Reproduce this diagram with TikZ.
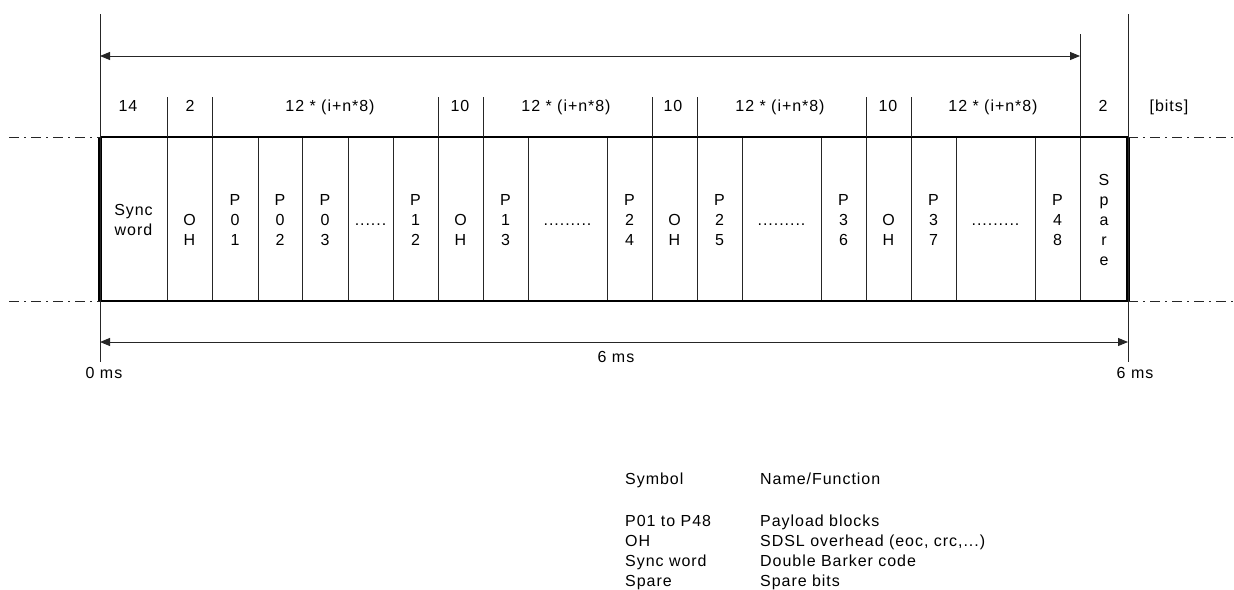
\documentclass[tikz,border=0pt]{standalone}
\usepackage{fontspec}
\setmainfont{Liberation Sans}[LetterSpace=6]
\usetikzlibrary{arrows.meta}
\newcommand\cellfont{\fontsize{16}{20}\selectfont}
\newcommand\st{\rule[-4pt]{0pt}{20pt}}
\newcommand\pc[2]{\st P\\\st #1\\\st #2}
\newcommand\ohtxt{\st\\\st O\\\st H}
\begin{document}
\begin{tikzpicture}[x=1pt,y=-1pt,
  thinline/.style={line width=1pt, draw=black!85},
  cell/.style={draw=black!85, line width=1pt, minimum height=164pt, inner sep=0pt,
    outer sep=0pt, anchor=west, align=center, font=\cellfont},
  lbl/.style={anchor=base, inner sep=0pt, font=\cellfont},
  leg/.style={anchor=base west, inner sep=0pt, font=\cellfont},
  dashdot/.style={line width=0.8pt, draw=black!85, dash pattern=on 10pt off 5pt on 2pt off 5pt},
  dim/.style={line width=1pt, draw=black!85, {Triangle[length=10pt,width=8pt]}-{Triangle[length=10pt,width=8pt]}}
]
\useasboundingbox (0,0) rectangle (1234,589);

% cells
\node[cell, minimum width=67pt] (c1) at (100,219) {\st Sync\\\st word};
\node[cell, minimum width=45pt] (c2) at (c1.east) {\ohtxt};
\node[cell, minimum width=46pt] (c3) at (c2.east) {\pc{0}{1}};
\node[cell, minimum width=44pt] (c4) at (c3.east) {\pc{0}{2}};
\node[cell, minimum width=46pt] (c5) at (c4.east) {\pc{0}{3}};
\node[cell, minimum width=45pt] (c6) at (c5.east) {\st ......};
\node[cell, minimum width=45pt] (c7) at (c6.east) {\pc{1}{2}};
\node[cell, minimum width=45pt] (c8) at (c7.east) {\ohtxt};
\node[cell, minimum width=45pt] (c9) at (c8.east) {\pc{1}{3}};
\node[cell, minimum width=79pt] (c10) at (c9.east) {\st .........};
\node[cell, minimum width=45pt] (c11) at (c10.east) {\pc{2}{4}};
\node[cell, minimum width=45pt] (c12) at (c11.east) {\ohtxt};
\node[cell, minimum width=45pt] (c13) at (c12.east) {\pc{2}{5}};
\node[cell, minimum width=79pt] (c14) at (c13.east) {\st .........};
\node[cell, minimum width=45pt] (c15) at (c14.east) {\pc{3}{6}};
\node[cell, minimum width=45pt] (c16) at (c15.east) {\ohtxt};
\node[cell, minimum width=45pt] (c17) at (c16.east) {\pc{3}{7}};
\node[cell, minimum width=79pt] (c18) at (c17.east) {\st .........};
\node[cell, minimum width=45pt] (c19) at (c18.east) {\pc{4}{8}};
\node[cell, minimum width=48pt] (c20) at (c19.east) {\st S\\\st p\\\st a\\\st r\\\st e};

% thick outer frame
\draw[line width=2.6pt, draw=black] (c1.north west) -- (c20.north east);
\draw[line width=2.6pt, draw=black] (c1.south west) -- (c20.south east);
\draw[line width=3.6pt, draw=black] (c1.north west) -- (c1.south west);
\draw[line width=3.6pt, draw=black] (c20.north east) -- (c20.south east);

% reference coordinates
\coordinate (ytop) at (0,14);
\coordinate (ybot) at (0,362);
\coordinate (yarr) at (0,56);
\coordinate (ybarr) at (0,342);
\coordinate (ysp) at (0,34);

% long vertical lines
\draw[thinline] (c1.north west |- ytop) -- (c1.north west |- ybot);
\draw[thinline] (c20.north east |- ytop) -- (c20.north east |- ybot);
\draw[thinline] (c20.north west |- ysp) -- (c20.north west);

% header ticks
\foreach \c in {c2,c3,c8,c9,c12,c13,c16,c17}
  \draw[thinline] (\c.north west) -- ++(0,-40);

% dimension arrows
\draw[dim] (c1.north west |- yarr) -- (c20.north west |- yarr);
\draw[dim] (c1.north west |- ybarr) -- (c20.north east |- ybarr);

% dash-dot extension lines
\draw[dashdot] (9,137) -- (c1.north west);
\draw[dashdot] (9,301) -- (c1.south west);
\draw[dashdot] (c20.north east) -- (1234,137);
\draw[dashdot] (c20.south east) -- (1234,301);

% header labels
\node[lbl] (h1) at (128,111) {14};
\node[lbl] (h2) at (190,111) {2};
\node[lbl] (h3) at (330,111) {12 * (i+n*8)};
\node[lbl] (h4) at (460,111) {10};
\node[lbl] (h5) at (566,111) {12 * (i+n*8)};
\node[lbl] (h6) at (673,111) {10};
\node[lbl] (h7) at (780,111) {12 * (i+n*8)};
\node[lbl] (h8) at (888,111) {10};
\node[lbl] (h9) at (993,111) {12 * (i+n*8)};
\node[lbl] (h10) at (1103,111) {2};
\node[lbl] (h11) at (1169,111) {[bits]};

% time labels
\node[lbl] (t0) at (104,378) {0 ms};
\node[lbl] (tm) at (616,362) {6 ms};
\node[lbl] (t6) at (1135,378) {6 ms};

% legend
\node[leg] (s0) at (625,484) {Symbol};
\node[leg] (n0) at (760,484) {Name/Function};
\node[leg] (s1) at (625,526) {P01 to P48};
\node[leg] (n1) at (760,526) {Payload blocks};
\node[leg] (s2) at (625,546) {OH};
\node[leg] (n2) at (760,546) {SDSL overhead (eoc, crc,...)};
\node[leg] (s3) at (625,566) {Sync word};
\node[leg] (n3) at (760,566) {Double Barker code};
\node[leg] (s4) at (625,586) {Spare};
\node[leg] (n4) at (760,586) {Spare bits};
\end{tikzpicture}
\end{document}
